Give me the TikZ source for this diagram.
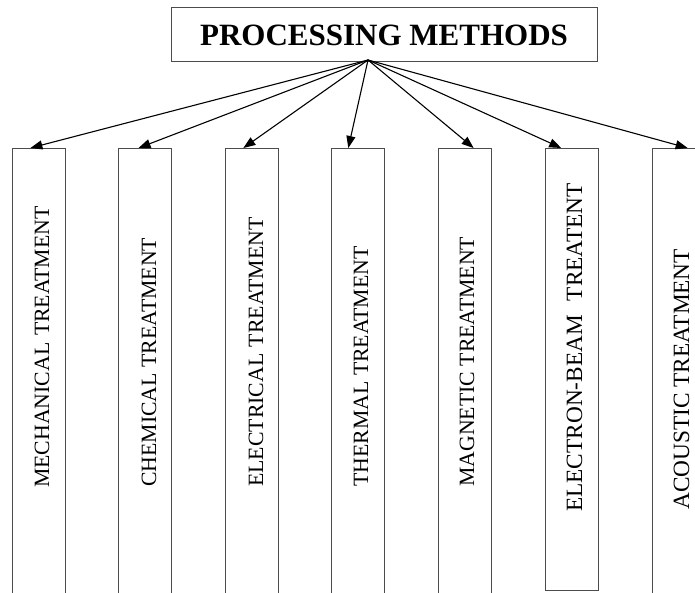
\documentclass[tikz,border=0pt]{standalone}
\usepackage{fontspec}
\setmainfont{Liberation Serif}
\usetikzlibrary{arrows.meta,calc}
\begin{document}
\begin{tikzpicture}[x=1pt,y=1pt,
  titlebox/.style={draw=black!70,line width=1pt,minimum width=426pt,minimum height=54pt,inner sep=0pt,
    font=\fontsize{31}{33}\selectfont\bfseries},
  tallbox/.style={draw=black!70,line width=1pt,minimum width=53pt,inner sep=0pt,anchor=north west},
  vlabel/.style={rotate=90,anchor=base west,inner sep=0pt,font=\fontsize{21.8}{24}\selectfont},
  vlabelbig/.style={vlabel,font=\fontsize{23.3}{25}\selectfont},
  arr/.style={-{Triangle[length=12pt,width=9pt]},line width=1.1pt,black}]
\useasboundingbox (0,0) rectangle (695,592);
\clip (0,0) rectangle (695,592);
\fill[white] (0,0) rectangle (695,592);

\node[titlebox] (title) at (384,557) {PROCESSING METHODS};
\coordinate (o) at (368,532);

\node[tallbox,minimum height=460pt] (b1) at (11.5,444) {};
\node[tallbox,minimum height=460pt] (b2) at (118,444) {};
\node[tallbox,minimum height=460pt] (b3) at (225,444) {};
\node[tallbox,minimum height=460pt] (b4) at (331,444) {};
\node[tallbox,minimum height=460pt] (b5) at (438,444) {};
\node[tallbox,minimum height=442pt] (b6) at (545,444) {};
\node[tallbox,minimum height=460pt] (b7) at (652,444) {};

\node[vlabel] (t1) at (49,104) {MECHANICAL\hspace{0.3em}TREATMENT};
\node[vlabel] (t2) at (156,105) {CHEMICAL TREATMENT};
\node[vlabel] (t3) at (263,105) {ELECTRICAL\hspace{0.3em}TREATMENT};
\node[vlabel] (t4) at (368,105) {THERMAL TREATMENT};
\node[vlabel] (t5) at (474,105) {MAGNETIC TREATMENT};
\node[vlabelbig] (t6) at (582,80) {ELECTRON-BEAM\hspace{0.6em}TREATENT};
\node[vlabelbig] (t7) at (689,82) {ACOUSTIC TREATMENT};

\draw[arr] (o) -- ($(b1.north west)!0.35!(b1.north east)$);
\draw[arr] (o) -- ($(b2.north west)!0.38!(b2.north east)$);
\draw[arr] (o) -- ($(b3.north west)!0.34!(b3.north east)$);
\draw[arr] (o) -- ($(b4.north west)!0.32!(b4.north east)$);
\draw[arr] (o) -- ($(b5.north west)!0.66!(b5.north east)$);
\draw[arr] (o) -- ($(b6.north west)!0.30!(b6.north east)$);
\draw[arr] (o) -- ($(b7.north west)!0.66!(b7.north east)$);
\end{tikzpicture}
\end{document}
